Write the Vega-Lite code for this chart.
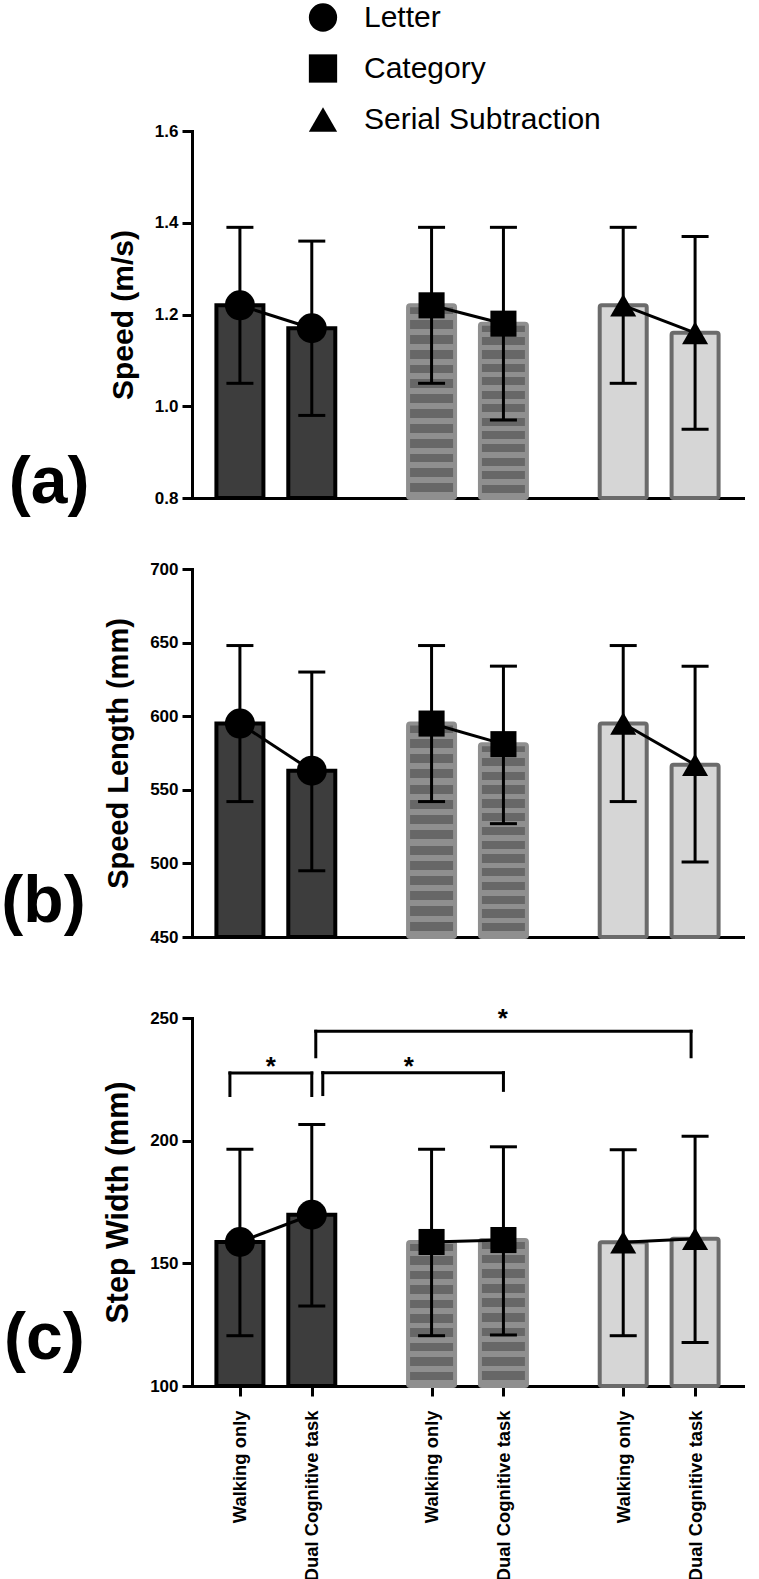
{
"$schema":"https://vega.github.io/schema/vega-lite/v6.json",
"background":"white",
"padding":{"left":1,"top":2,"right":5,"bottom":2},
"datasets":{
 "speed":[
  {"task":"Letter","cond":"Walking only","bar":"Letter|Walking only","mean":1.22,"lo":1.05,"hi":1.39},
  {"task":"Letter","cond":"Dual Cognitive task","bar":"Letter|Dual Cognitive task","mean":1.17,"lo":0.98,"hi":1.36},
  {"task":"Category","cond":"Walking only","bar":"Category|Walking only","mean":1.22,"lo":1.05,"hi":1.39},
  {"task":"Category","cond":"Dual Cognitive task","bar":"Category|Dual Cognitive task","mean":1.18,"lo":0.97,"hi":1.39},
  {"task":"Serial Subtraction","cond":"Walking only","bar":"Serial Subtraction|Walking only","mean":1.22,"lo":1.05,"hi":1.39},
  {"task":"Serial Subtraction","cond":"Dual Cognitive task","bar":"Serial Subtraction|Dual Cognitive task","mean":1.16,"lo":0.95,"hi":1.37}
 ],
 "stepLength":[
  {"task":"Letter","cond":"Walking only","bar":"Letter|Walking only","mean":595,"lo":542,"hi":648},
  {"task":"Letter","cond":"Dual Cognitive task","bar":"Letter|Dual Cognitive task","mean":563,"lo":495,"hi":630},
  {"task":"Category","cond":"Walking only","bar":"Category|Walking only","mean":595,"lo":542,"hi":648},
  {"task":"Category","cond":"Dual Cognitive task","bar":"Category|Dual Cognitive task","mean":581,"lo":527,"hi":634},
  {"task":"Serial Subtraction","cond":"Walking only","bar":"Serial Subtraction|Walking only","mean":595,"lo":542,"hi":648},
  {"task":"Serial Subtraction","cond":"Dual Cognitive task","bar":"Serial Subtraction|Dual Cognitive task","mean":567,"lo":501,"hi":634}
 ],
 "stepWidth":[
  {"task":"Letter","cond":"Walking only","bar":"Letter|Walking only","mean":158.7,"lo":120.5,"hi":196.5},
  {"task":"Letter","cond":"Dual Cognitive task","bar":"Letter|Dual Cognitive task","mean":169.8,"lo":132.6,"hi":206.6},
  {"task":"Category","cond":"Walking only","bar":"Category|Walking only","mean":158.7,"lo":120.5,"hi":196.5},
  {"task":"Category","cond":"Dual Cognitive task","bar":"Category|Dual Cognitive task","mean":159.5,"lo":120.8,"hi":197.5},
  {"task":"Serial Subtraction","cond":"Walking only","bar":"Serial Subtraction|Walking only","mean":158.6,"lo":120.5,"hi":196.3},
  {"task":"Serial Subtraction","cond":"Dual Cognitive task","bar":"Serial Subtraction|Dual Cognitive task","mean":160,"lo":117.7,"hi":201.8}
 ],
 "brackets":[
  {"id":"b1","from":"Letter|Walking only","to":"Letter|Dual Cognitive task","level":227.6,"leftEnd":218.4,"rightEnd":218.4,"label":"*"},
  {"id":"b2","from":"Letter|Dual Cognitive task","to":"Category|Dual Cognitive task","level":227.7,"leftEnd":218.8,"rightEnd":220.5,"label":"*"},
  {"id":"b3","from":"Letter|Dual Cognitive task","to":"Serial Subtraction|Dual Cognitive task","level":244.6,"leftEnd":234.2,"rightEnd":234.2,"label":"*"}
 ]
},
"spacing":0,
"bounds":"flush",
"vconcat":[
  {
   "width":551,"height":367,
   "data":{"name":"speed"},
   "title":{"text":"(a)","orient":"left","angle":0,"anchor":"start","frame":"group","align":"left","baseline":"alphabetic","fontSize":66,"fontWeight":"bold","offset":19,"dy":5,"color":"#000000"},
   "encoding":{
    "x":{"field":"bar","type":"nominal","scale":{"type":"point","padding":1,"domain":["g0","Letter|Walking only","g1","g2","Letter|Dual Cognitive task","g3","g4","g5","g6","Category|Walking only","g7","g8","Category|Dual Cognitive task","g9","g10","g11","g12","Serial Subtraction|Walking only","g13","g14","Serial Subtraction|Dual Cognitive task","g15"]},"axis":{"labels":false,"ticks":false,"title":null}},
    "y":{"field":"mean","type":"quantitative","scale":{"domain":[0.8,1.6],"nice":false,"zero":false},"axis":{"values":[0.8,1.0,1.2,1.4,1.6],"format":".1f","titleFontSize":30},"title":"Speed (m/s)"}
   },
   "layer":[
    {"transform":[{"filter":"datum.task==='Letter'"}],"mark":{"type":"bar","size":47,"fill":"#3d3d3d","stroke":"#000000","strokeWidth":4},"encoding":{"y2":{"datum":0.8}}},
    {"transform":[{"filter":"datum.task==='Category'"}],"mark":{"type":"bar","size":47,"stroke":"#8f8f8f","strokeWidth":4,"cornerRadius":2,"fill":{"gradient":"linear","x1":0,"y1":0,"x2":0,"y2":1,"stops":[
      {"offset":0,"color":"#676767"},{"offset":0.0462,"color":"#676767"},{"offset":0.0462,"color":"#8f8f8f"},{"offset":0.0769,"color":"#8f8f8f"},
      {"offset":0.0769,"color":"#676767"},{"offset":0.1231,"color":"#676767"},{"offset":0.1231,"color":"#8f8f8f"},{"offset":0.1538,"color":"#8f8f8f"},
      {"offset":0.1538,"color":"#676767"},{"offset":0.2,"color":"#676767"},{"offset":0.2,"color":"#8f8f8f"},{"offset":0.2308,"color":"#8f8f8f"},
      {"offset":0.2308,"color":"#676767"},{"offset":0.2769,"color":"#676767"},{"offset":0.2769,"color":"#8f8f8f"},{"offset":0.3077,"color":"#8f8f8f"},
      {"offset":0.3077,"color":"#676767"},{"offset":0.3538,"color":"#676767"},{"offset":0.3538,"color":"#8f8f8f"},{"offset":0.3846,"color":"#8f8f8f"},
      {"offset":0.3846,"color":"#676767"},{"offset":0.4308,"color":"#676767"},{"offset":0.4308,"color":"#8f8f8f"},{"offset":0.4615,"color":"#8f8f8f"},
      {"offset":0.4615,"color":"#676767"},{"offset":0.5077,"color":"#676767"},{"offset":0.5077,"color":"#8f8f8f"},{"offset":0.5385,"color":"#8f8f8f"},
      {"offset":0.5385,"color":"#676767"},{"offset":0.5846,"color":"#676767"},{"offset":0.5846,"color":"#8f8f8f"},{"offset":0.6154,"color":"#8f8f8f"},
      {"offset":0.6154,"color":"#676767"},{"offset":0.6615,"color":"#676767"},{"offset":0.6615,"color":"#8f8f8f"},{"offset":0.6923,"color":"#8f8f8f"},
      {"offset":0.6923,"color":"#676767"},{"offset":0.7385,"color":"#676767"},{"offset":0.7385,"color":"#8f8f8f"},{"offset":0.7692,"color":"#8f8f8f"},
      {"offset":0.7692,"color":"#676767"},{"offset":0.8154,"color":"#676767"},{"offset":0.8154,"color":"#8f8f8f"},{"offset":0.8462,"color":"#8f8f8f"},
      {"offset":0.8462,"color":"#676767"},{"offset":0.8923,"color":"#676767"},{"offset":0.8923,"color":"#8f8f8f"},{"offset":0.9231,"color":"#8f8f8f"},
      {"offset":0.9231,"color":"#676767"},{"offset":0.9692,"color":"#676767"},{"offset":0.9692,"color":"#8f8f8f"},{"offset":1,"color":"#8f8f8f"}]}},"encoding":{"y2":{"datum":0.8}}},
    {"transform":[{"filter":"datum.task==='Serial Subtraction'"}],"mark":{"type":"bar","size":47,"fill":"#d6d6d6","stroke":"#6b6b6b","strokeWidth":4,"cornerRadius":2},"encoding":{"y2":{"datum":0.8}}},
    {"mark":{"type":"rule","color":"#000000","strokeWidth":3},"encoding":{"y":{"field":"lo","type":"quantitative","scale":{"domain":[0.8,1.6],"nice":false,"zero":false},"title":"Speed (m/s)"},"y2":{"field":"hi"}}},
    {"mark":{"type":"tick","color":"#000000","size":27,"thickness":3,"opacity":1},"encoding":{"y":{"field":"hi","type":"quantitative","scale":{"domain":[0.8,1.6],"nice":false,"zero":false},"title":"Speed (m/s)"}}},
    {"mark":{"type":"tick","color":"#000000","size":27,"thickness":3,"opacity":1},"encoding":{"y":{"field":"lo","type":"quantitative","scale":{"domain":[0.8,1.6],"nice":false,"zero":false},"title":"Speed (m/s)"}}},
    {"mark":{"type":"line","color":"#000000","strokeWidth":3},"encoding":{"detail":{"field":"task","type":"nominal"}}},
    {"mark":{"type":"point","filled":true,"color":"#000000","opacity":1,"strokeWidth":0},"encoding":{
      "shape":{"field":"task","type":"nominal","scale":{"domain":["Letter","Category","Serial Subtraction"],"range":["circle","square","triangle-up"]},"legend":{"title":null,"orient":"none","legendX":116,"legendY":-128.5,"symbolSize":800,"symbolFillColor":"#000000","symbolStrokeColor":"#000000","symbolStrokeWidth":0,"symbolOpacity":1,"labelFontSize":30,"labelFontWeight":"normal","labelColor":"#000000","labelLimit":400,"rowPadding":21,"labelOffset":26,"padding":0}},
      "size":{"condition":{"test":"datum.task==='Letter'","value":900},"value":680}}}
   ]
  },
  {"width":551,"height":71,"data":{"values":[]},"mark":{"type":"point","opacity":0}},
  {
   "width":551,"height":368,
   "data":{"name":"stepLength"},
   "title":{"text":"(b)","orient":"left","angle":0,"anchor":"start","frame":"group","align":"left","baseline":"alphabetic","fontSize":66,"fontWeight":"bold","offset":19,"dy":-15,"color":"#000000"},
   "encoding":{
    "x":{"field":"bar","type":"nominal","scale":{"type":"point","padding":1,"domain":["g0","Letter|Walking only","g1","g2","Letter|Dual Cognitive task","g3","g4","g5","g6","Category|Walking only","g7","g8","Category|Dual Cognitive task","g9","g10","g11","g12","Serial Subtraction|Walking only","g13","g14","Serial Subtraction|Dual Cognitive task","g15"]},"axis":{"labels":false,"ticks":false,"title":null}},
    "y":{"field":"mean","type":"quantitative","scale":{"domain":[450,700],"nice":false,"zero":false},"axis":{"values":[450,500,550,600,650,700],"titleFontSize":29},"title":"Speed Length (mm)"}
   },
   "layer":[
    {"transform":[{"filter":"datum.task==='Letter'"}],"mark":{"type":"bar","size":47,"fill":"#3d3d3d","stroke":"#000000","strokeWidth":4},"encoding":{"y2":{"datum":450}}},
    {"transform":[{"filter":"datum.task==='Category'"}],"mark":{"type":"bar","size":47,"stroke":"#8f8f8f","strokeWidth":4,"cornerRadius":2,"fill":{"gradient":"linear","x1":0,"y1":0,"x2":0,"y2":1,"stops":[
      {"offset":0,"color":"#676767"},{"offset":0.0429,"color":"#676767"},{"offset":0.0429,"color":"#8f8f8f"},{"offset":0.0714,"color":"#8f8f8f"},
      {"offset":0.0714,"color":"#676767"},{"offset":0.1143,"color":"#676767"},{"offset":0.1143,"color":"#8f8f8f"},{"offset":0.1429,"color":"#8f8f8f"},
      {"offset":0.1429,"color":"#676767"},{"offset":0.1857,"color":"#676767"},{"offset":0.1857,"color":"#8f8f8f"},{"offset":0.2143,"color":"#8f8f8f"},
      {"offset":0.2143,"color":"#676767"},{"offset":0.2571,"color":"#676767"},{"offset":0.2571,"color":"#8f8f8f"},{"offset":0.2857,"color":"#8f8f8f"},
      {"offset":0.2857,"color":"#676767"},{"offset":0.3286,"color":"#676767"},{"offset":0.3286,"color":"#8f8f8f"},{"offset":0.3571,"color":"#8f8f8f"},
      {"offset":0.3571,"color":"#676767"},{"offset":0.4,"color":"#676767"},{"offset":0.4,"color":"#8f8f8f"},{"offset":0.4286,"color":"#8f8f8f"},
      {"offset":0.4286,"color":"#676767"},{"offset":0.4714,"color":"#676767"},{"offset":0.4714,"color":"#8f8f8f"},{"offset":0.5,"color":"#8f8f8f"},
      {"offset":0.5,"color":"#676767"},{"offset":0.5429,"color":"#676767"},{"offset":0.5429,"color":"#8f8f8f"},{"offset":0.5714,"color":"#8f8f8f"},
      {"offset":0.5714,"color":"#676767"},{"offset":0.6143,"color":"#676767"},{"offset":0.6143,"color":"#8f8f8f"},{"offset":0.6429,"color":"#8f8f8f"},
      {"offset":0.6429,"color":"#676767"},{"offset":0.6857,"color":"#676767"},{"offset":0.6857,"color":"#8f8f8f"},{"offset":0.7143,"color":"#8f8f8f"},
      {"offset":0.7143,"color":"#676767"},{"offset":0.7571,"color":"#676767"},{"offset":0.7571,"color":"#8f8f8f"},{"offset":0.7857,"color":"#8f8f8f"},
      {"offset":0.7857,"color":"#676767"},{"offset":0.8286,"color":"#676767"},{"offset":0.8286,"color":"#8f8f8f"},{"offset":0.8571,"color":"#8f8f8f"},
      {"offset":0.8571,"color":"#676767"},{"offset":0.9,"color":"#676767"},{"offset":0.9,"color":"#8f8f8f"},{"offset":0.9286,"color":"#8f8f8f"},
      {"offset":0.9286,"color":"#676767"},{"offset":0.9714,"color":"#676767"},{"offset":0.9714,"color":"#8f8f8f"},{"offset":1,"color":"#8f8f8f"}]}},"encoding":{"y2":{"datum":450}}},
    {"transform":[{"filter":"datum.task==='Serial Subtraction'"}],"mark":{"type":"bar","size":47,"fill":"#d6d6d6","stroke":"#6b6b6b","strokeWidth":4,"cornerRadius":2},"encoding":{"y2":{"datum":450}}},
    {"mark":{"type":"rule","color":"#000000","strokeWidth":3},"encoding":{"y":{"field":"lo","type":"quantitative","scale":{"domain":[450,700],"nice":false,"zero":false},"title":"Speed Length (mm)"},"y2":{"field":"hi"}}},
    {"mark":{"type":"tick","color":"#000000","size":27,"thickness":3,"opacity":1},"encoding":{"y":{"field":"hi","type":"quantitative","scale":{"domain":[450,700],"nice":false,"zero":false},"title":"Speed Length (mm)"}}},
    {"mark":{"type":"tick","color":"#000000","size":27,"thickness":3,"opacity":1},"encoding":{"y":{"field":"lo","type":"quantitative","scale":{"domain":[450,700],"nice":false,"zero":false},"title":"Speed Length (mm)"}}},
    {"mark":{"type":"line","color":"#000000","strokeWidth":3},"encoding":{"detail":{"field":"task","type":"nominal"}}},
    {"mark":{"type":"point","filled":true,"color":"#000000","opacity":1,"strokeWidth":0},"encoding":{
      "shape":{"field":"task","type":"nominal","scale":{"domain":["Letter","Category","Serial Subtraction"],"range":["circle","square","triangle-up"]},"legend":{"title":null,"orient":"none","legendX":116,"legendY":-128.5,"symbolSize":800,"symbolFillColor":"#000000","symbolStrokeColor":"#000000","symbolStrokeWidth":0,"symbolOpacity":1,"labelFontSize":30,"labelFontWeight":"normal","labelColor":"#000000","labelLimit":400,"rowPadding":21,"labelOffset":26,"padding":0}},
      "size":{"condition":{"test":"datum.task==='Letter'","value":900},"value":680}}}
   ]
  },
  {"width":551,"height":81,"data":{"values":[]},"mark":{"type":"point","opacity":0}},
 {
  "width":551,"height":368,
  "data":{"name":"stepWidth"},
  "title":{"text":"(c)","orient":"left","angle":0,"anchor":"start","frame":"group","align":"left","baseline":"alphabetic","fontSize":66,"fontWeight":"bold","offset":19,"dy":-27,"color":"#000000"},
  "encoding":{
   "x":{"field":"bar","type":"nominal","scale":{"type":"point","padding":1,"domain":["g0","Letter|Walking only","g1","g2","Letter|Dual Cognitive task","g3","g4","g5","g6","Category|Walking only","g7","g8","Category|Dual Cognitive task","g9","g10","g11","g12","Serial Subtraction|Walking only","g13","g14","Serial Subtraction|Dual Cognitive task","g15"]},"axis":{"values":["Letter|Walking only","Letter|Dual Cognitive task","Category|Walking only","Category|Dual Cognitive task","Serial Subtraction|Walking only","Serial Subtraction|Dual Cognitive task"],"labelExpr":"split(datum.value,'|')[1]","labelAngle":-90,"tickSize":10,"labelPadding":14,"labelFontSize":18.4,"title":null}},
   "y":{"field":"mean","type":"quantitative","scale":{"domain":[100,250],"nice":false,"zero":false},"axis":{"values":[100,150,200,250],"titleFontSize":30.5},"title":"Step Width (mm)"}
  },
  "layer":[
   {"transform":[{"filter":"datum.task==='Letter'"}],"mark":{"type":"bar","size":47,"fill":"#3d3d3d","stroke":"#000000","strokeWidth":4},"encoding":{"y2":{"datum":100}}},
   {"transform":[{"filter":"datum.task==='Category'"}],"mark":{"type":"bar","size":47,"stroke":"#8f8f8f","strokeWidth":4,"cornerRadius":2,"fill":{"gradient":"linear","x1":0,"y1":0,"x2":0,"y2":1,"stops":[
     {"offset":0,"color":"#676767"},{"offset":0.06,"color":"#676767"},{"offset":0.06,"color":"#8f8f8f"},{"offset":0.1,"color":"#8f8f8f"},
     {"offset":0.1,"color":"#676767"},{"offset":0.16,"color":"#676767"},{"offset":0.16,"color":"#8f8f8f"},{"offset":0.2,"color":"#8f8f8f"},
     {"offset":0.2,"color":"#676767"},{"offset":0.26,"color":"#676767"},{"offset":0.26,"color":"#8f8f8f"},{"offset":0.3,"color":"#8f8f8f"},
     {"offset":0.3,"color":"#676767"},{"offset":0.36,"color":"#676767"},{"offset":0.36,"color":"#8f8f8f"},{"offset":0.4,"color":"#8f8f8f"},
     {"offset":0.4,"color":"#676767"},{"offset":0.46,"color":"#676767"},{"offset":0.46,"color":"#8f8f8f"},{"offset":0.5,"color":"#8f8f8f"},
     {"offset":0.5,"color":"#676767"},{"offset":0.56,"color":"#676767"},{"offset":0.56,"color":"#8f8f8f"},{"offset":0.6,"color":"#8f8f8f"},
     {"offset":0.6,"color":"#676767"},{"offset":0.66,"color":"#676767"},{"offset":0.66,"color":"#8f8f8f"},{"offset":0.7,"color":"#8f8f8f"},
     {"offset":0.7,"color":"#676767"},{"offset":0.76,"color":"#676767"},{"offset":0.76,"color":"#8f8f8f"},{"offset":0.8,"color":"#8f8f8f"},
     {"offset":0.8,"color":"#676767"},{"offset":0.86,"color":"#676767"},{"offset":0.86,"color":"#8f8f8f"},{"offset":0.9,"color":"#8f8f8f"},
     {"offset":0.9,"color":"#676767"},{"offset":0.96,"color":"#676767"},{"offset":0.96,"color":"#8f8f8f"},{"offset":1,"color":"#8f8f8f"}]}},"encoding":{"y2":{"datum":100}}},
   {"transform":[{"filter":"datum.task==='Serial Subtraction'"}],"mark":{"type":"bar","size":47,"fill":"#d6d6d6","stroke":"#6b6b6b","strokeWidth":4,"cornerRadius":2},"encoding":{"y2":{"datum":100}}},
   {"mark":{"type":"rule","color":"#000000","strokeWidth":3},"encoding":{"y":{"field":"lo","type":"quantitative","scale":{"domain":[100,250],"nice":false,"zero":false},"title":"Step Width (mm)"},"y2":{"field":"hi"}}},
   {"mark":{"type":"tick","color":"#000000","size":27,"thickness":3,"opacity":1},"encoding":{"y":{"field":"hi","type":"quantitative","scale":{"domain":[100,250],"nice":false,"zero":false},"title":"Step Width (mm)"}}},
   {"mark":{"type":"tick","color":"#000000","size":27,"thickness":3,"opacity":1},"encoding":{"y":{"field":"lo","type":"quantitative","scale":{"domain":[100,250],"nice":false,"zero":false},"title":"Step Width (mm)"}}},
   {"mark":{"type":"line","color":"#000000","strokeWidth":3},"encoding":{"detail":{"field":"task","type":"nominal"}}},
   {"mark":{"type":"point","filled":true,"color":"#000000","opacity":1,"strokeWidth":0},"encoding":{
     "shape":{"field":"task","type":"nominal","scale":{"domain":["Letter","Category","Serial Subtraction"],"range":["circle","square","triangle-up"]},"legend":{"title":null,"orient":"none","legendX":116,"legendY":-128.5,"symbolSize":800,"symbolFillColor":"#000000","symbolStrokeColor":"#000000","symbolStrokeWidth":0,"symbolOpacity":1,"labelFontSize":30,"labelFontWeight":"normal","labelColor":"#000000","labelLimit":400,"rowPadding":21,"labelOffset":26,"padding":0}},
     "size":{"condition":{"test":"datum.task==='Letter'","value":900},"value":680}}},
   {"data":{"name":"brackets"},"transform":[{"filter":"datum.id==='b1'"}],"layer":[
     {"mark":{"type":"rule","color":"#000000","strokeWidth":3,"strokeCap":"square","xOffset":-10},"encoding":{"x":{"field":"from","type":"nominal","title":null,"scale":{"type":"point","padding":1,"domain":["g0","Letter|Walking only","g1","g2","Letter|Dual Cognitive task","g3","g4","g5","g6","Category|Walking only","g7","g8","Category|Dual Cognitive task","g9","g10","g11","g12","Serial Subtraction|Walking only","g13","g14","Serial Subtraction|Dual Cognitive task","g15"]}},"x2":{"field":"to"},"y":{"field":"level","type":"quantitative","scale":{"domain":[100,250],"nice":false,"zero":false},"title":"Step Width (mm)"}}},
     {"mark":{"type":"rule","color":"#000000","strokeWidth":3,"strokeCap":"square","xOffset":-10},"encoding":{"x":{"field":"from","type":"nominal","title":null,"scale":{"type":"point","padding":1,"domain":["g0","Letter|Walking only","g1","g2","Letter|Dual Cognitive task","g3","g4","g5","g6","Category|Walking only","g7","g8","Category|Dual Cognitive task","g9","g10","g11","g12","Serial Subtraction|Walking only","g13","g14","Serial Subtraction|Dual Cognitive task","g15"]}},"y":{"field":"level","type":"quantitative","scale":{"domain":[100,250],"nice":false,"zero":false},"title":"Step Width (mm)"},"y2":{"field":"leftEnd"}}},
     {"mark":{"type":"rule","color":"#000000","strokeWidth":3,"strokeCap":"square"},"encoding":{"x":{"field":"to","type":"nominal","title":null,"scale":{"type":"point","padding":1,"domain":["g0","Letter|Walking only","g1","g2","Letter|Dual Cognitive task","g3","g4","g5","g6","Category|Walking only","g7","g8","Category|Dual Cognitive task","g9","g10","g11","g12","Serial Subtraction|Walking only","g13","g14","Serial Subtraction|Dual Cognitive task","g15"]}},"y":{"field":"level","type":"quantitative","scale":{"domain":[100,250],"nice":false,"zero":false},"title":"Step Width (mm)"},"y2":{"field":"rightEnd"}}},
     {"mark":{"type":"text","color":"#000000","fontSize":26,"fontWeight":"bold","align":"center","baseline":"alphabetic","dx":31,"dy":2},"encoding":{"x":{"field":"from","type":"nominal","title":null,"scale":{"type":"point","padding":1,"domain":["g0","Letter|Walking only","g1","g2","Letter|Dual Cognitive task","g3","g4","g5","g6","Category|Walking only","g7","g8","Category|Dual Cognitive task","g9","g10","g11","g12","Serial Subtraction|Walking only","g13","g14","Serial Subtraction|Dual Cognitive task","g15"]}},"y":{"field":"level","type":"quantitative","scale":{"domain":[100,250],"nice":false,"zero":false},"title":"Step Width (mm)"},"text":{"field":"label"}}}
   ]},
   {"data":{"name":"brackets"},"transform":[{"filter":"datum.id==='b2'"}],"layer":[
     {"mark":{"type":"rule","color":"#000000","strokeWidth":3,"strokeCap":"square","xOffset":11},"encoding":{"x":{"field":"from","type":"nominal","title":null,"scale":{"type":"point","padding":1,"domain":["g0","Letter|Walking only","g1","g2","Letter|Dual Cognitive task","g3","g4","g5","g6","Category|Walking only","g7","g8","Category|Dual Cognitive task","g9","g10","g11","g12","Serial Subtraction|Walking only","g13","g14","Serial Subtraction|Dual Cognitive task","g15"]}},"x2":{"field":"to"},"y":{"field":"level","type":"quantitative","scale":{"domain":[100,250],"nice":false,"zero":false},"title":"Step Width (mm)"}}},
     {"mark":{"type":"rule","color":"#000000","strokeWidth":3,"strokeCap":"square","xOffset":11},"encoding":{"x":{"field":"from","type":"nominal","title":null,"scale":{"type":"point","padding":1,"domain":["g0","Letter|Walking only","g1","g2","Letter|Dual Cognitive task","g3","g4","g5","g6","Category|Walking only","g7","g8","Category|Dual Cognitive task","g9","g10","g11","g12","Serial Subtraction|Walking only","g13","g14","Serial Subtraction|Dual Cognitive task","g15"]}},"y":{"field":"level","type":"quantitative","scale":{"domain":[100,250],"nice":false,"zero":false},"title":"Step Width (mm)"},"y2":{"field":"leftEnd"}}},
     {"mark":{"type":"rule","color":"#000000","strokeWidth":3,"strokeCap":"square"},"encoding":{"x":{"field":"to","type":"nominal","title":null,"scale":{"type":"point","padding":1,"domain":["g0","Letter|Walking only","g1","g2","Letter|Dual Cognitive task","g3","g4","g5","g6","Category|Walking only","g7","g8","Category|Dual Cognitive task","g9","g10","g11","g12","Serial Subtraction|Walking only","g13","g14","Serial Subtraction|Dual Cognitive task","g15"]}},"y":{"field":"level","type":"quantitative","scale":{"domain":[100,250],"nice":false,"zero":false},"title":"Step Width (mm)"},"y2":{"field":"rightEnd"}}},
     {"mark":{"type":"text","color":"#000000","fontSize":26,"fontWeight":"bold","align":"center","baseline":"alphabetic","dx":97,"dy":2},"encoding":{"x":{"field":"from","type":"nominal","title":null,"scale":{"type":"point","padding":1,"domain":["g0","Letter|Walking only","g1","g2","Letter|Dual Cognitive task","g3","g4","g5","g6","Category|Walking only","g7","g8","Category|Dual Cognitive task","g9","g10","g11","g12","Serial Subtraction|Walking only","g13","g14","Serial Subtraction|Dual Cognitive task","g15"]}},"y":{"field":"level","type":"quantitative","scale":{"domain":[100,250],"nice":false,"zero":false},"title":"Step Width (mm)"},"text":{"field":"label"}}}
   ]},
   {"data":{"name":"brackets"},"transform":[{"filter":"datum.id==='b3'"}],"layer":[
     {"mark":{"type":"rule","color":"#000000","strokeWidth":3,"strokeCap":"square","xOffset":4,"x2Offset":-4},"encoding":{"x":{"field":"from","type":"nominal","title":null,"scale":{"type":"point","padding":1,"domain":["g0","Letter|Walking only","g1","g2","Letter|Dual Cognitive task","g3","g4","g5","g6","Category|Walking only","g7","g8","Category|Dual Cognitive task","g9","g10","g11","g12","Serial Subtraction|Walking only","g13","g14","Serial Subtraction|Dual Cognitive task","g15"]}},"x2":{"field":"to"},"y":{"field":"level","type":"quantitative","scale":{"domain":[100,250],"nice":false,"zero":false},"title":"Step Width (mm)"}}},
     {"mark":{"type":"rule","color":"#000000","strokeWidth":3,"strokeCap":"square","xOffset":4},"encoding":{"x":{"field":"from","type":"nominal","title":null,"scale":{"type":"point","padding":1,"domain":["g0","Letter|Walking only","g1","g2","Letter|Dual Cognitive task","g3","g4","g5","g6","Category|Walking only","g7","g8","Category|Dual Cognitive task","g9","g10","g11","g12","Serial Subtraction|Walking only","g13","g14","Serial Subtraction|Dual Cognitive task","g15"]}},"y":{"field":"level","type":"quantitative","scale":{"domain":[100,250],"nice":false,"zero":false},"title":"Step Width (mm)"},"y2":{"field":"leftEnd"}}},
     {"mark":{"type":"rule","color":"#000000","strokeWidth":3,"strokeCap":"square","xOffset":-4},"encoding":{"x":{"field":"to","type":"nominal","title":null,"scale":{"type":"point","padding":1,"domain":["g0","Letter|Walking only","g1","g2","Letter|Dual Cognitive task","g3","g4","g5","g6","Category|Walking only","g7","g8","Category|Dual Cognitive task","g9","g10","g11","g12","Serial Subtraction|Walking only","g13","g14","Serial Subtraction|Dual Cognitive task","g15"]}},"y":{"field":"level","type":"quantitative","scale":{"domain":[100,250],"nice":false,"zero":false},"title":"Step Width (mm)"},"y2":{"field":"rightEnd"}}},
     {"mark":{"type":"text","color":"#000000","fontSize":26,"fontWeight":"bold","align":"center","baseline":"alphabetic","dx":191,"dy":-4},"encoding":{"x":{"field":"from","type":"nominal","title":null,"scale":{"type":"point","padding":1,"domain":["g0","Letter|Walking only","g1","g2","Letter|Dual Cognitive task","g3","g4","g5","g6","Category|Walking only","g7","g8","Category|Dual Cognitive task","g9","g10","g11","g12","Serial Subtraction|Walking only","g13","g14","Serial Subtraction|Dual Cognitive task","g15"]}},"y":{"field":"level","type":"quantitative","scale":{"domain":[100,250],"nice":false,"zero":false},"title":"Step Width (mm)"},"text":{"field":"label"}}}
   ]}
  ]
 }
],
"config":{
 "font":"Liberation Sans",
 "view":{"stroke":null},
 "axis":{"domainColor":"#000000","domainWidth":3,"domainCap":"square","tickColor":"#000000","tickWidth":3,"tickSize":10,"labelColor":"#000000","labelFontSize":17,"labelFontWeight":"bold","labelPadding":4,"titleColor":"#000000","titleFontSize":29,"titleFontWeight":"bold","titlePadding":16,"grid":false},
 "title":{"font":"Liberation Sans"}
}
}
